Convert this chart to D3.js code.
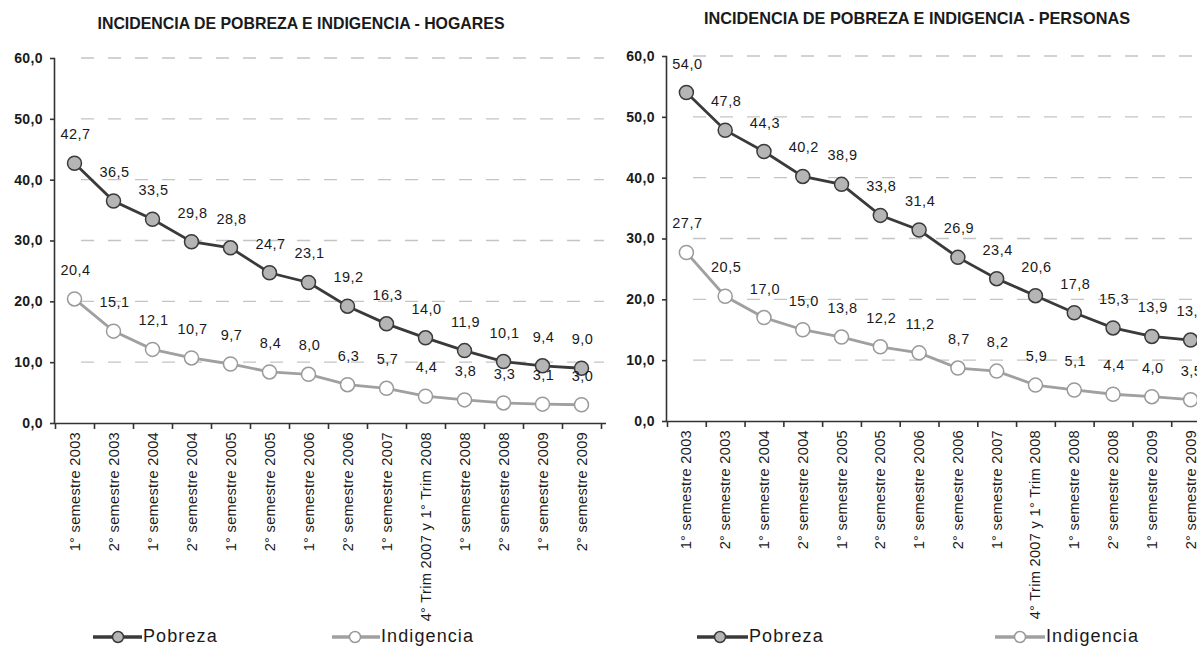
<!DOCTYPE html>
<html>
<head>
<meta charset="utf-8">
<script src="https://cdn.jsdelivr.net/npm/d3@7"></script>
<style>
  html, body { margin: 0; padding: 0; background: #fff; }
  svg { display: block; font-family: Arial, "Liberation Sans", sans-serif; }
</style>
</head>
<body>
<svg id="chart" width="1197" height="646"></svg>
<script>
const categories = [
  "1° semestre 2003", "2° semestre 2003", "1° semestre 2004", "2° semestre 2004",
  "1° semestre 2005", "2° semestre 2005", "1° semestre 2006", "2° semestre 2006",
  "1° semestre 2007", "4° Trim 2007 y 1° Trim 2008", "1° semestre 2008",
  "2° semestre 2008", "1° semestre 2009", "2° semestre 2009"
];
const hogaresPobreza    = [42.7, 36.5, 33.5, 29.8, 28.8, 24.7, 23.1, 19.2, 16.3, 14.0, 11.9, 10.1, 9.4, 9.0];
const hogaresIndigencia = [20.4, 15.1, 12.1, 10.7, 9.7, 8.4, 8.0, 6.3, 5.7, 4.4, 3.8, 3.3, 3.1, 3.0];
const personasPobreza    = [54.0, 47.8, 44.3, 40.2, 38.9, 33.8, 31.4, 26.9, 23.4, 20.6, 17.8, 15.3, 13.9, 13.3];
const personasIndigencia = [27.7, 20.5, 17.0, 15.0, 13.8, 12.2, 11.2, 8.7, 8.2, 5.9, 5.1, 4.4, 4.0, 3.5];
const yTicks = [0, 10, 20, 30, 40, 50, 60];
const seriesNames = ["Pobreza", "Indigencia"];
const titles = ["INCIDENCIA DE POBREZA E INDIGENCIA - HOGARES", "INCIDENCIA DE POBREZA E INDIGENCIA - PERSONAS"];

const fmt = v => d3.format(".1f")(v).replace(".", ",");
const svg = d3.select("#chart");

const styles = [
  { line: "#3a3a3a", fill: "#b5b5b5", stroke: "#3a3a3a" },
  { line: "#a0a0a0", fill: "#ffffff", stroke: "#9a9a9a" }
];

function panel(cfg) {
  const g = svg.append("g");
  const x = d3.scalePoint().domain(categories).range([cfg.x0, cfg.x1]).padding(0.5);
  const xb = d3.scaleLinear().domain([0, categories.length]).range([cfg.x0, cfg.x1]);
  const y = d3.scaleLinear().domain([0, 60]).range([cfg.y0, cfg.y60]);

  // title
  g.append("text").attr("x", cfg.titleX).attr("y", cfg.titleY)
    .attr("text-anchor", "middle").attr("font-weight", "bold")
    .attr("font-size", cfg.titleSize).attr("fill", "#1a1a1a").text(cfg.title);

  // gridlines
  g.append("g").selectAll("line").data(yTicks.filter(d => d > 0)).join("line")
    .attr("x1", cfg.x0 + 26).attr("x2", cfg.gridEnd)
    .attr("y1", d => y(d)).attr("y2", d => y(d))
    .attr("stroke", "#c4c4c4").attr("stroke-width", 1.3)
    .attr("stroke-dasharray", "13,14");

  // y axis
  const ya = g.append("g").attr("transform", `translate(${cfg.x0},0)`)
    .call(d3.axisLeft(y).tickValues(yTicks).tickSize(5).tickPadding(7).tickFormat(fmt));
  ya.select(".domain").attr("stroke", "#333").attr("stroke-width", 1.6).attr("d", `M-0.5,${cfg.y0}V${cfg.y60}`);
  ya.selectAll(".tick line").attr("stroke", "#333").attr("stroke-width", 1.6);
  ya.selectAll(".tick text").attr("font-size", 14).attr("font-weight", "bold")
    .attr("fill", "#1a1a1a").attr("letter-spacing", 0.4)
    .attr("font-family", "Arial, 'Liberation Sans', sans-serif");

  // x axis
  const xa = g.append("g").attr("transform", `translate(0,${cfg.y0})`)
    .call(d3.axisBottom(xb).tickValues(d3.range(categories.length + 1)).tickSize(6).tickFormat(""));
  xa.select(".domain").attr("stroke", "#333").attr("stroke-width", 1.6).attr("d", `M${cfg.x0},0.5H${cfg.x1 + 5}`);
  xa.selectAll(".tick line").attr("stroke", "#333").attr("stroke-width", 1.6);

  // x labels
  g.append("g").selectAll("text").data(categories).join("text")
    .attr("transform", d => `translate(${x(d) + 5},${cfg.y0 + 9}) rotate(-90)`)
    .attr("text-anchor", "end").attr("font-size", 14.6).attr("letter-spacing", 0.3)
    .attr("fill", "#1a1a1a")
    .text(d => d);

  // series
  cfg.series.forEach((vals, si) => {
    const st = styles[si];
    const pts = vals.map((v, i) => [x(categories[i]), y(v), v]);
    g.append("path").datum(pts)
      .attr("d", d3.line().x(d => d[0]).y(d => d[1]))
      .attr("fill", "none").attr("stroke", st.line).attr("stroke-width", 2.8);
    g.append("g").selectAll("circle").data(pts).join("circle")
      .attr("cx", d => d[0]).attr("cy", d => d[1]).attr("r", 7)
      .attr("fill", st.fill).attr("stroke", st.stroke).attr("stroke-width", 1.5);
    g.append("g").selectAll("text").data(pts).join("text")
      .attr("x", d => d[0] + 1).attr("y", d => d[1] - 24)
      .attr("text-anchor", "middle").attr("font-size", 14.5).attr("letter-spacing", 0.5)
      .attr("fill", "#1a1a1a")
      .text(d => fmt(d[2]));
  });

  // legend
  cfg.legend.forEach((L, si) => {
    const st = styles[si];
    g.append("line").attr("x1", L.x1).attr("x2", L.x2).attr("y1", 637).attr("y2", 637)
      .attr("stroke", st.line).attr("stroke-width", 3.5);
    g.append("circle").attr("cx", L.cx).attr("cy", 637).attr("r", 5.5)
      .attr("fill", st.fill).attr("stroke", st.stroke).attr("stroke-width", 1.5);
    g.append("text").attr("x", L.x2 + 1).attr("y", 642).attr("font-size", 18)
      .attr("letter-spacing", 1.1)
      .attr("fill", "#1a1a1a").text(seriesNames[si]);
  });
}

panel({
  x0: 55, x1: 601, y0: 423, y60: 58, gridEnd: 604,
  title: titles[0], titleX: 301, titleY: 29, titleSize: 15.9,
  series: [hogaresPobreza, hogaresIndigencia],
  legend: [{ x1: 93, x2: 142, cx: 118 }, { x1: 332, x2: 380, cx: 355 }]
});
panel({
  x0: 667, x1: 1210, y0: 421, y60: 56, gridEnd: 1210,
  title: titles[1], titleX: 917, titleY: 24, titleSize: 16.3,
  series: [personasPobreza, personasIndigencia],
  legend: [{ x1: 697, x2: 748, cx: 720 }, { x1: 995, x2: 1045, cx: 1020 }]
});
</script>
</body>
</html>
